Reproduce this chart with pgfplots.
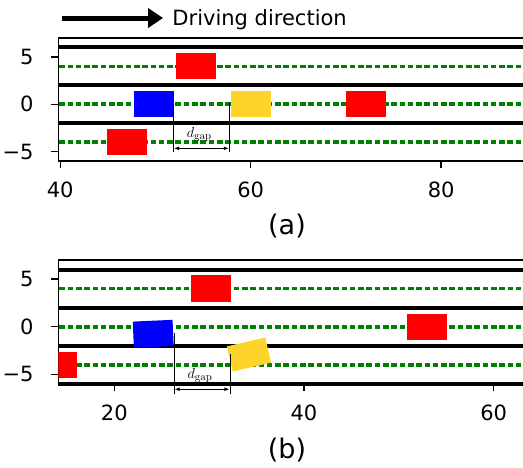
\documentclass[border=0pt]{standalone}
\usepackage[no-math]{fontspec}
\setmainfont{DejaVu Sans}
\usepackage{pgfplots}
\pgfplotsset{compat=1.18}
\usetikzlibrary{arrows.meta}
\definecolor{lanegreen}{RGB}{0,128,0}
\definecolor{caryellow}{RGB}{255,212,42}
\definecolor{carred}{RGB}{255,0,0}
\definecolor{carblue}{RGB}{0,0,255}
\tikzset{
  laneline/.style={black, line width=4pt},
  lanecenter/.style={lanegreen, line width=3.5pt, dash pattern=on 5.6pt off 2.7pt},
}
\pgfplotsset{
  lanes/.style={
    scale only axis, width=464.7pt,
    ymin=-6, ymax=7,
    clip mode=individual,
    axis x line*=box, axis y line*=left,
    xtick pos=lower, ytick pos=left,
    tick align=outside, major tick length=7pt,
    every tick/.style={black, line width=1.3pt},
    axis line style={line width=1.3pt},
    ytick={-5,0,5}, yticklabels={−5,0,5},
    tick label style={font=\fontsize{21}{25}\selectfont},
    xticklabel style={anchor=north, inner sep=0pt, yshift=-14pt},
    yticklabel style={anchor=east, inner sep=0pt, xshift=-17.6pt},
  },
}
\begin{document}
\fontsize{21}{25}\selectfont
\begin{tikzpicture}
\useasboundingbox (0,0) rectangle (523pt,468pt);
% ---------- (a)
\begin{axis}[lanes, at={(58.3pt,307pt)}, anchor=south west, height=123pt,
  xmin=39.8, xmax=88.6, xtick={40,60,80}, xticklabels={40,60,80}]
\addplot[laneline] coordinates {(0,6) (100,6)};
\addplot[laneline] coordinates {(0,2) (100,2)};
\addplot[laneline] coordinates {(0,-2) (100,-2)};
\addplot[lanecenter] coordinates {(39.9,4) (100,4)};
\addplot[lanecenter] coordinates {(39.9,0) (100,0)};
\addplot[lanecenter] coordinates {(39.9,-4) (100,-4)};
% cars
\addplot[fill=carred, draw=none] coordinates {(52.2,2.62) (56.4,2.62) (56.4,5.38) (52.2,5.38)} -- cycle;
\addplot[fill=carblue, draw=none] coordinates {(47.7,-1.38) (51.9,-1.38) (51.9,1.38) (47.7,1.38)} -- cycle;
\addplot[fill=caryellow, draw=none] coordinates {(57.9,-1.38) (62.1,-1.38) (62.1,1.38) (57.9,1.38)} -- cycle;
\addplot[fill=carred, draw=none] coordinates {(70.0,-1.34) (74.2,-1.34) (74.2,1.42) (70.0,1.42)} -- cycle;
\addplot[fill=carred, draw=none] coordinates {(44.9,-5.38) (49.1,-5.38) (49.1,-2.62) (44.9,-2.62)} -- cycle;
% gap
\addplot[black, line width=1pt] coordinates {(51.88,0) (51.88,-5.1)};
\addplot[black, line width=1pt] coordinates {(57.76,0.15) (57.76,-5.1)};
\draw[black, line width=0.9pt, {Latex[length=5pt,width=4pt]}-{Latex[length=5pt,width=4pt]}] (axis cs:51.95,-4.66) -- (axis cs:57.7,-4.66);
\node[font=\fontsize{15}{18}\selectfont] at (axis cs:54.6,-3.25) {$d_{\mathrm{gap}}$};
% driving direction
\draw[black, line width=5pt, -{Triangle[length=15pt,width=19pt]}] (axis cs:40.19,9.11) -- (axis cs:50.8,9.11);
\node[anchor=base west, inner sep=0pt] at (axis cs:51.77,8.32) {Driving direction};
\end{axis}
% ---------- (b)
\begin{axis}[lanes, at={(58.3pt,84pt)}, anchor=south west, height=124pt,
  xmin=14.09, xmax=63.1, xtick={20,40,60}, xticklabels={20,40,60}]
\addplot[laneline] coordinates {(0,6) (100,6)};
\addplot[laneline] coordinates {(0,2) (100,2)};
\addplot[laneline] coordinates {(0,-2) (100,-2)};
\draw[laneline] (axis cs:14.09,-6) -- (axis cs:63.1,-6);
\addplot[lanecenter] coordinates {(14.2,4) (100,4)};
\addplot[lanecenter] coordinates {(14.2,0) (100,0)};
\addplot[lanecenter] coordinates {(14.2,-4) (100,-4)};
% cars
\addplot[fill=carred, draw=none] coordinates {(28.1,2.62) (32.3,2.62) (32.3,5.38) (28.1,5.38)} -- cycle;
\addplot[fill=carblue, draw=none] coordinates {(26.138,0.725) (21.942,0.542) (22.062,-2.206) (26.258,-2.022)} -- cycle;
\addplot[fill=caryellow, draw=none] coordinates {(35.918,-1.128) (31.875,-2.061) (32.482,-4.692) (36.525,-3.759)} -- cycle;
\addplot[fill=carred, draw=none] coordinates {(50.9,-1.38) (55.1,-1.38) (55.1,1.38) (50.9,1.38)} -- cycle;
\addplot[fill=carred, draw=none] coordinates {(11.84,-5.41) (16.04,-5.41) (16.04,-2.65) (11.84,-2.65)} -- cycle;
% gap
\draw[black, line width=1pt] (axis cs:26.3,-0.68) -- (axis cs:26.3,-7.08);
\draw[black, line width=1pt] (axis cs:32.2,-2.88) -- (axis cs:32.2,-7.08);
\draw[black, line width=0.9pt, {Latex[length=5pt,width=4pt]}-{Latex[length=5pt,width=4pt]}] (axis cs:26.37,-6.55) -- (axis cs:32.13,-6.55);
\node[font=\fontsize{15}{18}\selectfont] at (axis cs:29.04,-5.16) {$d_{\mathrm{gap}}$};
\end{axis}
% panel labels
\node[anchor=base, inner sep=0pt, font=\fontsize{27}{32}\selectfont] at (287pt,233.5pt) {(a)};
\node[anchor=base, inner sep=0pt, font=\fontsize{27}{32}\selectfont] at (287pt,9.8pt) {(b)};
\end{tikzpicture}
\end{document}
